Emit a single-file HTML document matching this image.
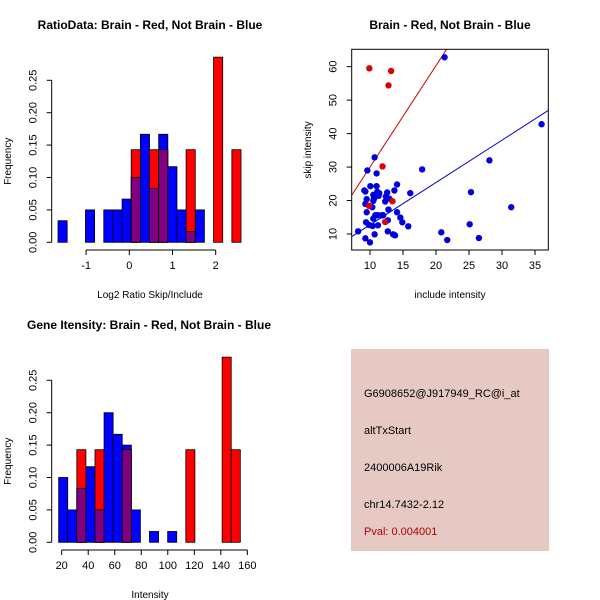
<!DOCTYPE html>
<html><head><meta charset="utf-8"><style>
html,body{margin:0;padding:0;background:#fff;}
svg{display:block;font-family:"Liberation Sans",sans-serif;}
</style></head><body>
<svg id="s" width="600" height="600" viewBox="0 0 600 600" xmlns="http://www.w3.org/2000/svg">
<rect width="600" height="600" fill="#fff"/>
<g id="info">
<rect x="351" y="349" width="198" height="202" fill="#e6c9c3"/>
<text x="364" y="397" font-size="11" fill="#000">G6908652@J917949_RC@i_at</text>
<text x="364" y="434" font-size="11" fill="#000">altTxStart</text>
<text x="364" y="471" font-size="11" fill="#000">2400006A19Rik</text>
<text x="364" y="508" font-size="11" fill="#000">chr14.7432-2.12</text>
<text x="364" y="535" font-size="11" fill="#b00000">Pval: 0.004001</text>
</g>
</svg>
<script>
// ---- Ratio histogram data ----
const ratioBinStart = -1.65;
const ratioBinWidth = 0.2118;
const ratioBlue = [0.0333,0,0,0.05,0,0.05,0.05,0.0667,0.1,0.1667,0.0833,0.1667,0.1167,0.05,0.0167,0.05,0,0,0,0];
const ratioRed  = [0,0,0,0,0,0,0,0,0.1429,0,0.1429,0.1429,0,0,0.1429,0,0,0.2857,0,0.1429];
const ratioXTicks = [-1,0,1,2];
const freqTicks = [0,0.05,0.10,0.15,0.20,0.25];
const freqTickLabels = ["0.00","0.05","0.10","0.15","0.20","0.25"];
// ---- Intensity histogram data ----
const intBinStart = 17.7;
const intBinWidth = 6.85;
const intBlue = [0.1,0.05,0.0833,0.1167,0.05,0.2,0.1667,0.15,0.05,0,0.0167,0,0.0167,0,0,0,0,0,0,0];
const intRed  = [0,0,0.1429,0,0.1429,0,0,0.1429,0,0,0,0,0,0,0.1429,0,0,0,0.2857,0.1429];
const intXTicks = [20,40,60,80,100,120,140,160];
// ---- Scatter data ----
const redX = [9.9,13.2,12.8,11.9,13.4,9.85,12.3];
const redY = [59.5,58.7,54.4,30.2,19.8,18.4,13.6];
const blueX = [21.3,36.0,28.1,17.9,10.7,9.6,11.0,14.1,10.05,11.0,9.14,9.3,13.7,16.1,25.3,11.1,11.4,12.6,10.5,12.4,11.3,10.6,9.5,12.9,12.3,10.5,9.3,10.35,31.4,12.8,9.5,14.1,10.8,11.2,11.8,12.0,14.6,12.7,10.5,9.4,14.9,25.1,9.85,11.2,10.4,15.8,12.7,8.2,10.7,13.5,13.8,20.8,9.3,21.7,26.5,10.0];
const blueY = [62.8,42.8,32.0,29.3,32.9,29.0,28.1,24.8,24.3,24.3,23.0,22.7,23.0,22.2,22.5,22.6,22.2,22.4,21.7,21.2,21.4,20.5,20.4,20.6,19.7,19.9,19.0,18.0,18.0,17.3,16.5,16.5,15.6,15.6,15.6,15.6,14.9,14.1,14.6,13.5,13.5,12.9,12.7,12.6,12.4,12.3,10.8,10.8,9.9,9.9,9.6,10.5,8.7,8.2,8.8,7.5];
const fitSlopes = [3.03,1.265];
const fitIntercepts = [-0.3,0.09];
const scXTicks = [10,15,20,25,30,35];
const scYTicks = [10,20,30,40,50,60];

const NS="http://www.w3.org/2000/svg";
const svg=document.getElementById('s');
function mk(tag,attrs,parent){const e=document.createElementNS(NS,tag);for(const k in attrs)e.setAttribute(k,attrs[k]);(parent||svg).appendChild(e);return e;}
function txt(x,y,s,size,attrs,parent){const t=mk('text',Object.assign({x:x,y:y,'font-size':size,fill:'#000'},attrs||{}),parent);t.textContent=s;return t;}

function histogram(name,title,xlabel,binStart,binW,blue,red,xTicks,xTickLabels,ox,ppu,y0,ppf,axisY,xTitleY,titleX,titleY){
  const g=mk('g',{});
  
  
  const X=v=>ox+(v-binStart)*ppu, Y=f=>y0-f*ppf;
  const tt=txt(titleX,titleY,title,12,{'font-weight':'bold','text-anchor':'middle'},g);
  
  
  for(let i=0;i<blue.length;i++){
    const x0=X(binStart+i*binW), x1=X(binStart+(i+1)*binW);
    const b=blue[i]||0, r=red[i]||0;
    if(b>0){const e=mk('rect',{x:x0,y:Y(b),width:x1-x0,height:y0-Y(b),fill:'#0000ff',stroke:'#000','stroke-width':0.8},g);
      
      }
    if(r>0){const e=mk('rect',{x:x0,y:Y(r),width:x1-x0,height:y0-Y(r),fill:'#ff0000',stroke:'#000','stroke-width':0.8},g);
      
      }
    if(b>0&&r>0){const m=Math.min(b,r);const e=mk('rect',{x:x0,y:Y(m),width:x1-x0,height:y0-Y(m),fill:'#800080',stroke:'#000','stroke-width':0.8},g);
      
      }
  }
  const ax=51.7;
  mk('line',{x1:ax,x2:ax,y1:Y(0),y2:Y(0.25),stroke:'#000'},g);
  freqTicks.forEach((f,i)=>{mk('line',{x1:ax-5,x2:ax,y1:Y(f),y2:Y(f),stroke:'#000'},g);
    const t=txt(0,0,freqTickLabels[i],11,{'text-anchor':'middle',transform:`translate(${ax-15},${Y(f)}) rotate(-90)`},g);
    
    });
  const yl=txt(0,0,'Frequency',10,{'text-anchor':'middle',transform:`translate(11,${Y(0.125)}) rotate(-90)`},g);
  
  
  mk('line',{x1:X(xTicks[0]),x2:X(xTicks[xTicks.length-1]),y1:axisY,y2:axisY,stroke:'#000'},g);
  xTicks.forEach((v,i)=>{mk('line',{x1:X(v),x2:X(v),y1:axisY,y2:axisY+5,stroke:'#000'},g);
    const t=txt(X(v),axisY+19,xTickLabels[i],11,{'text-anchor':'middle'},g);
    
    });
  const xl=txt(150,xTitleY,xlabel,10,{'text-anchor':'middle'},g);
  
  
}
histogram('ratio-histogram','RatioData: Brain - Red, Not Brain - Blue','Log2 Ratio Skip/Include',
  ratioBinStart,ratioBinWidth,ratioBlue,ratioRed,ratioXTicks,ratioXTicks.map(String),
  129.3+ratioBinStart*43.2,43.2,242.3,648,250,298,150,29);
histogram('intensity-histogram','Gene Itensity: Brain - Red, Not Brain - Blue','Intensity',
  intBinStart,intBinWidth,intBlue,intRed,intXTicks,intXTicks.map(String),
  61.7+(intBinStart-20)*1.326,1.326,542.3,648,550,598,149,329);

(function(){
  const g=mk('g',{});
  
  
  const L=351.7,R=548.3,T=49.3,B=250;
  const X=v=>370+(v-10)*6.6, Y=v=>234-(v-10)*3.347;
  const t=txt(450,29,'Brain - Red, Not Brain - Blue',12,{'font-weight':'bold','text-anchor':'middle'},g);
  
  
  const cp=mk('clipPath',{id:'cp'},g);mk('rect',{x:L,y:T,width:R-L,height:B-T},cp);
  const lineColors=['#cc0000','#0000cc'];
  fitSlopes.forEach((m,i)=>{const xa=(L-370)/6.6+10, xb=(R-370)/6.6+10;
    const l=mk('line',{x1:X(xa),y1:Y(fitIntercepts[i]+m*xa),x2:X(xb),y2:Y(fitIntercepts[i]+m*xb),stroke:lineColors[i],'stroke-width':1,'clip-path':'url(#cp)'},g);
    
    });
  blueX.forEach((x,i)=>{const c=mk('circle',{cx:X(x),cy:Y(blueY[i]),r:3.2,fill:'#0000dd'},g);
    
    });
  redX.forEach((x,i)=>{const c=mk('circle',{cx:X(x),cy:Y(redY[i]),r:3.2,fill:'#dd0000'},g);
    
    });
  mk('rect',{x:L,y:T,width:R-L,height:B-T,fill:'none',stroke:'#000'},g);
  scXTicks.forEach(v=>{mk('line',{x1:X(v),x2:X(v),y1:B,y2:B+5,stroke:'#000'},g);
    const t=txt(X(v),B+19,String(v),11,{'text-anchor':'middle'},g);
    
    });
  scYTicks.forEach(v=>{mk('line',{x1:L-5,x2:L,y1:Y(v),y2:Y(v),stroke:'#000'},g);
    const t=txt(0,0,String(v),11,{'text-anchor':'middle',transform:`translate(${L-15},${Y(v)}) rotate(-90)`},g);
    
    });
  const xl=txt(450,298,'include intensity',10,{'text-anchor':'middle'},g);
  
  
  const yl=txt(0,0,'skip intensity',10,{'text-anchor':'middle',transform:`translate(311,150) rotate(-90)`},g);
  
  
})();
</script>
</body></html>
